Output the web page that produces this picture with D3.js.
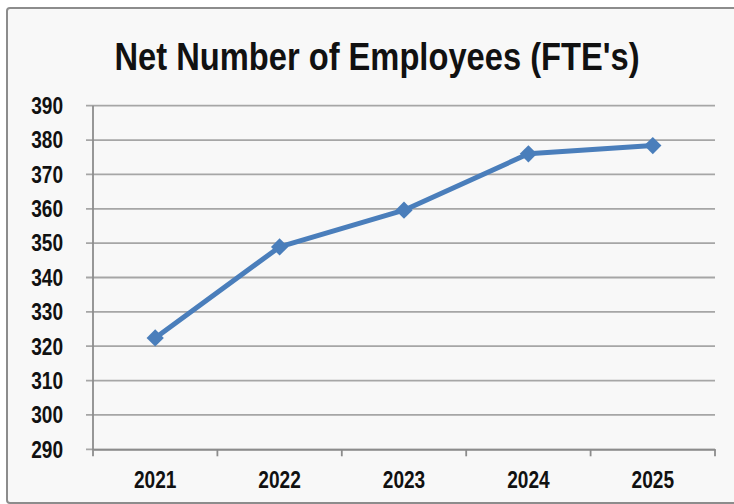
<!DOCTYPE html>
<html>
<head>
<meta charset="utf-8">
<script src="https://cdn.jsdelivr.net/npm/d3@7"></script>
<style>
  body { margin: 0; background: #fff; }
  text { font-family: "Liberation Sans Narrow", "Arial Narrow", "Liberation Sans", Arial, sans-serif; font-weight: bold; fill: #111; }
</style>
</head>
<body>
<div id="chart"></div>
<script>
const years = ["2021", "2022", "2023", "2024", "2025"];
const employees = [322.4, 348.9, 359.6, 376.0, 378.4];
const yTicks = [290, 300, 310, 320, 330, 340, 350, 360, 370, 380, 390];
const title = "Net Number of Employees (FTE's)";

const width = 734, height = 504;
const margin = { top: 105.7, left: 93, right: 19, bottom: 54.7 };
const innerW = width - margin.left - margin.right;
const innerH = height - margin.top - margin.bottom;
const narrow = 0.83; // squeeze regular sans into a narrow look

const svg = d3.select("#chart").append("svg")
  .attr("width", width)
  .attr("height", height);

// chart frame
svg.append("rect")
  .attr("x", 7).attr("y", 8)
  .attr("width", 740).attr("height", 495)
  .attr("rx", 3)
  .attr("fill", "#f8f8f8")
  .attr("stroke", "#8c8c8c")
  .attr("stroke-width", 2);

svg.append("text")
  .attr("transform", "translate(377,70) scale(0.86,1)")
  .attr("text-anchor", "middle")
  .style("font-size", "38px")
  .text(title);

const g = svg.append("g").attr("transform", `translate(${margin.left},${margin.top})`);

const x = d3.scaleBand().domain(years).range([0, innerW]);
const y = d3.scaleLinear().domain([290, 390]).range([innerH, 0]);

// gridlines + y ticks
g.selectAll("line.grid")
  .data(yTicks)
  .join("line")
  .attr("class", "grid")
  .attr("x1", -7).attr("x2", innerW)
  .attr("y1", d => y(d)).attr("y2", d => y(d))
  .attr("stroke", "#a6a6a6")
  .attr("stroke-width", 1.8);

g.selectAll("text.ylab")
  .data(yTicks)
  .join("text")
  .attr("class", "ylab")
  .attr("transform", d => `translate(-30,${y(d)}) scale(${narrow},1)`)
  .attr("dy", "0.36em")
  .attr("text-anchor", "end")
  .style("font-size", "23px")
  .text(d => d);

// y axis line
g.append("line")
  .attr("x1", 0).attr("x2", 0)
  .attr("y1", 0).attr("y2", innerH + 7)
  .attr("stroke", "#8c8c8c").attr("stroke-width", 1.8);

// x axis
const xAxis = g.append("g")
  .attr("transform", `translate(0,${innerH})`)
  .call(d3.axisBottom(x).tickSize(0).tickPadding(22));
xAxis.select(".domain").attr("stroke", "#8c8c8c").attr("stroke-width", 1.8);
xAxis.selectAll("text")
  .style("font-size", "23px")
  .attr("fill", "#111")
  .attr("transform", `scale(${narrow},1)`);

// boundary tick marks between categories
const bounds = years.map(d => x(d) + x.bandwidth());
xAxis.selectAll("line.bound")
  .data(bounds)
  .join("line")
  .attr("class", "bound")
  .attr("x1", d => d).attr("x2", d => d)
  .attr("y1", 0).attr("y2", 7)
  .attr("stroke", "#8c8c8c").attr("stroke-width", 1.8);

const pts = years.map((d, i) => ({ year: d, value: employees[i] }));

const line = d3.line()
  .x(d => x(d.year) + x.bandwidth() / 2)
  .y(d => y(d.value));

g.append("path")
  .datum(pts)
  .attr("d", line)
  .attr("fill", "none")
  .attr("stroke", "#4a7ebb")
  .attr("stroke-width", 5)
  .attr("stroke-linejoin", "round");

g.selectAll("path.marker")
  .data(pts)
  .join("path")
  .attr("class", "marker")
  .attr("d", d3.symbol().type(d3.symbolDiamond2).size(190))
  .attr("transform", d => `translate(${x(d.year) + x.bandwidth() / 2},${y(d.value)})`)
  .attr("fill", "#4a7ebb");
</script>
</body>
</html>
